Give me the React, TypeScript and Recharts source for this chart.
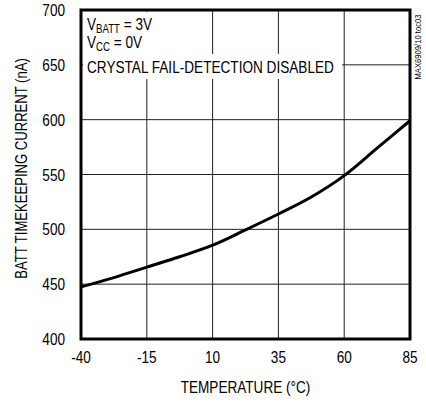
import { CartesianGrid, Line, LineChart, ReferenceArea, XAxis, YAxis } from 'recharts';

const temperature = [-40, -27.5, -15, -2.5, 10, 22.5, 35, 47.5, 60, 72.5, 85];
const current = [447.5, 456, 465.5, 475, 485.5, 499.5, 514, 529.5, 549, 574, 599];
const xTicks = [-40, -15, 10, 35, 60, 85];
const yTicks = [400, 450, 500, 550, 600, 650, 700];

const data = temperature.map((t, i) => ({ t, i: current[i] }));

const font = "'Liberation Sans', Arial, sans-serif";
const squeeze = 0.8;

// narrow-looking text: regular sans squeezed horizontally
function XTick({ x, y, payload }: any) {
  return (
    <text transform={`translate(${x},${y}) scale(${squeeze},1)`} textAnchor="middle" dy="0.71em" fontSize={17} fontFamily={font} fill="#000">
      {payload.value}
    </text>
  );
}

function YTick({ x, y, payload }: any) {
  return (
    <text transform={`translate(${x},${y}) scale(${squeeze},1)`} textAnchor="end" dy="0.355em" fontSize={17} fontFamily={font} fill="#000">
      {payload.value}
    </text>
  );
}

function YTitle({ viewBox }: any) {
  const cy = viewBox.y + viewBox.height / 2 - 6;
  return (
    <text transform={`translate(27,${cy}) rotate(-90) scale(0.77,1)`} textAnchor="middle" fontSize={17} fontFamily={font} fill="#000">
      BATT TIMEKEEPING CURRENT (nA)
    </text>
  );
}

function XTitle({ viewBox }: any) {
  const cx = viewBox.x + viewBox.width / 2;
  return (
    <text transform={`translate(${cx},393) scale(${squeeze},1)`} textAnchor="middle" fontSize={17} fontFamily={font} fill="#000">
      TEMPERATURE (°C)
    </text>
  );
}

const lineText = {
  position: 'absolute' as const,
  left: 87,
  fontSize: 17,
  lineHeight: '21px',
  whiteSpace: 'nowrap' as const,
  transform: `scaleX(${squeeze})`,
  transformOrigin: 'left center',
};

export default function App() {
  return (
    <div style={{ position: 'absolute', left: 0, top: 0, width: 426, height: 403, background: '#fff', fontFamily: font }}>
      <LineChart width={426} height={403} data={data} margin={{ top: 10, right: 16, bottom: 0, left: 0 }}>
        <CartesianGrid stroke="#222" strokeWidth={1} />
        <XAxis
          type="number"
          dataKey="t"
          domain={[-40, 85]}
          ticks={xTicks}
          height={64}
          tickSize={0}
          tickMargin={12}
          axisLine={false}
          tick={<XTick />}
          label={<XTitle />}
        />
        <YAxis
          type="number"
          domain={[400, 700]}
          ticks={yTicks}
          width={81}
          tickSize={0}
          tickMargin={16}
          axisLine={false}
          tick={<YTick />}
          label={<YTitle />}
        />
        <Line dataKey="i" type="monotone" stroke="#000" strokeWidth={3} dot={false} isAnimationActive={false} />
        <ReferenceArea x1={-40} x2={85} y1={400} y2={700} fill="none" stroke="#000" strokeWidth={3} ifOverflow="visible" />
      </LineChart>

      <div style={{ position: 'absolute', left: 83, top: 12, width: 82, height: 42, background: '#fff' }} />
      <div style={{ position: 'absolute', left: 83, top: 54, width: 259, height: 25, background: '#fff' }} />
      <div style={{ ...lineText, top: 14 }}>
        V<sub style={{ fontSize: 12, verticalAlign: '-3px' }}>BATT</sub> = 3V
      </div>
      <div style={{ ...lineText, top: 32 }}>
        V<sub style={{ fontSize: 12, verticalAlign: '-3px' }}>CC</sub> = 0V
      </div>
      <div style={{ ...lineText, top: 57 }}>CRYSTAL FAIL-DETECTION DISABLED</div>
      <div
        style={{
          position: 'absolute',
          left: 418,
          top: 47,
          fontSize: 9,
          whiteSpace: 'nowrap',
          transform: 'translate(-50%, -50%) rotate(-90deg) scaleX(0.85)',
        }}
      >
        MAX6909/10 toc03
      </div>
    </div>
  );
}
